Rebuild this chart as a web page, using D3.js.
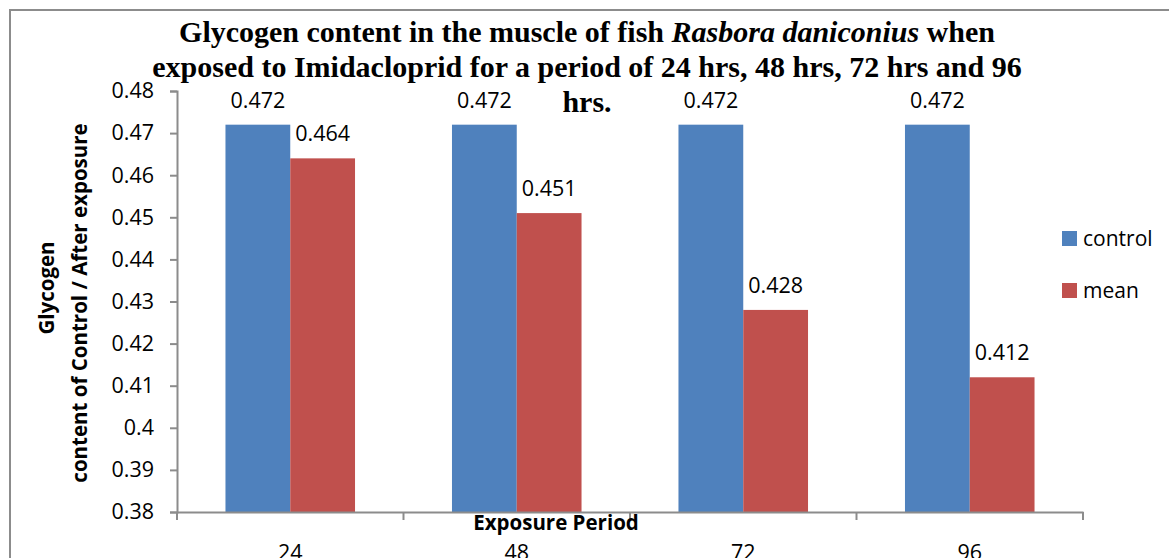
<!DOCTYPE html>
<html>
<head>
<meta charset="utf-8">
<script src="https://cdn.jsdelivr.net/npm/d3@7"></script>
<style>
  body { margin: 0; background: #fff; }
  svg { display: block; }
  .tick text { font-family: "Open Sans", sans-serif; }
</style>
</head>
<body>
<svg id="chart" width="1169" height="558"></svg>
<script>
// data
const periods = ["24", "48", "72", "96"];
const series = ["control", "mean"];
const control = [0.472, 0.472, 0.472, 0.472];
const mean = [0.464, 0.451, 0.428, 0.412];
const yTicks = [0.38, 0.39, 0.4, 0.41, 0.42, 0.43, 0.44, 0.45, 0.46, 0.47, 0.48];
const colors = ["#4F81BD", "#C0504D"];

let svg = d3.select("#chart");
let margin = {left: 177, top: 91, right: 1083, bottom: 512};

// chart frame
svg.append("rect").attr("x", 10).attr("y", 10).attr("width", 1200).attr("height", 600)
  .attr("fill", "white").attr("stroke", "#8c8c8c").attr("stroke-width", 2);

let x = d3.scaleBand().domain(periods).range([margin.left, margin.right]);
let x1 = d3.scaleBand().domain(series).range([x.bandwidth() * 0.214, x.bandwidth() * 0.786]);
let y = d3.scaleLinear().domain([0.38, 0.48]).range([margin.bottom, margin.top]);

// bars
let rows = periods.map((p, i) => ({period: p, values: [control[i], mean[i]]}));
let groups = svg.selectAll(".grp").data(rows).enter().append("g")
  .attr("class", "grp")
  .attr("transform", d => "translate(" + x(d.period) + ",0)");

groups.selectAll("rect").data(d => d.values.map((v, j) => ({key: series[j], v: v, j: j})))
  .enter().append("rect")
  .attr("x", d => x1(d.key))
  .attr("y", d => y(d.v))
  .attr("width", x1.bandwidth())
  .attr("height", d => y(0.38) - y(d.v))
  .attr("fill", d => colors[d.j]);

groups.selectAll(".lbl").data(d => d.values.map((v, j) => ({key: series[j], v: v})))
  .enter().append("text")
  .attr("class", "lbl")
  .attr("x", d => x1(d.key) + x1.bandwidth() / 2)
  .attr("y", d => y(d.v) - 17)
  .attr("text-anchor", "middle")
  .style("font-family", "Open Sans, sans-serif")
  .style("font-size", "21.5px")
  .attr("fill", "#000")
  .text(d => d.v.toFixed(3));

// y axis
let yAxis = svg.append("g").attr("transform", "translate(" + margin.left + ",0)")
  .call(d3.axisLeft(y).tickValues(yTicks).tickSize(7).tickPadding(16).tickFormat(d => String(+d.toFixed(2))));
yAxis.select(".domain").attr("stroke", "#8c8c8c").attr("stroke-width", 2);
yAxis.selectAll(".tick line").attr("stroke", "#8c8c8c").attr("stroke-width", 2);
yAxis.selectAll(".tick text").style("font-size", "21.5px").attr("fill", "#000");

// x axis
let xAxis = svg.append("g").attr("transform", "translate(0," + margin.bottom + ")")
  .call(d3.axisBottom(x).tickSize(0).tickPadding(33));
xAxis.select(".domain").attr("stroke", "#8c8c8c").attr("stroke-width", 2);
xAxis.selectAll(".tick text").style("font-size", "21.5px").attr("fill", "#000");
// boundary ticks between categories
let bounds = periods.map(p => x(p)).concat([x.range()[1]]);
xAxis.selectAll(".bnd").data(bounds).enter().append("line")
  .attr("x1", d => d).attr("x2", d => d).attr("y1", 0).attr("y2", 8)
  .attr("stroke", "#8c8c8c").attr("stroke-width", 2);

// axis titles
svg.append("text").attr("x", 556).attr("y", 530).attr("text-anchor", "middle")
  .style("font-family", "Open Sans, sans-serif").style("font-weight", "bold").style("font-size", "20.5px")
  .text("Exposure Period");

svg.append("text").attr("transform", "translate(54,288) rotate(-90)").attr("text-anchor", "middle")
  .style("font-family", "Open Sans, sans-serif").style("font-weight", "bold").style("font-size", "20.5px")
  .text("Glycogen");
svg.append("text").attr("transform", "translate(87,303) rotate(-90)").attr("text-anchor", "middle")
  .style("font-family", "Open Sans, sans-serif").style("font-weight", "bold").style("font-size", "20.5px")
  .text("content of Control / After exposure");

// title
let title = svg.append("text").attr("text-anchor", "middle")
  .style("font-family", "Liberation Serif, Times New Roman, serif").style("font-weight", "bold").style("font-size", "30px");
let l1 = title.append("tspan").attr("x", 587).attr("y", 42);
l1.append("tspan").text("Glycogen content in the muscle of fish ");
l1.append("tspan").style("font-style", "italic").text("Rasbora daniconius");
l1.append("tspan").text(" when");
title.append("tspan").attr("x", 587).attr("y", 77).text("exposed to Imidacloprid for a period of 24 hrs, 48 hrs, 72 hrs and 96");
title.append("tspan").attr("x", 587).attr("y", 112).text("hrs.");

// legend
let legend = svg.selectAll(".leg").data(series).enter().append("g")
  .attr("class", "leg")
  .attr("transform", (d, i) => "translate(1062," + (231 + i * 52) + ")");
legend.append("rect").attr("width", 15).attr("height", 15).attr("fill", (d, i) => colors[i]);
legend.append("text").attr("x", 21).attr("y", 15)
  .style("font-family", "Open Sans, sans-serif").style("font-size", "21px").text(d => d);
</script>
</body>
</html>
